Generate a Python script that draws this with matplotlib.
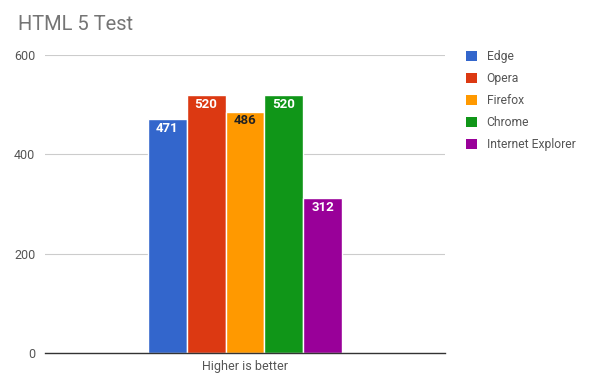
import matplotlib
matplotlib.use("Agg")
import matplotlib.pyplot as plt
from matplotlib.patches import Patch

plt.rcParams['font.family'] = ['Roboto', 'DejaVu Sans']

browsers = ["Edge", "Opera", "Firefox", "Chrome", "Internet Explorer"]
scores = [471, 520, 486, 520, 312]
colors = ["#3366cc", "#dc3912", "#ff9900", "#109618", "#990099"]
label_colors = ["white", "white", "#222222", "white", "white"]
category = "Higher is better"
yticks = [0, 200, 400, 600]

fig = plt.figure(figsize=(5.92, 3.89), dpi=100)
ax = fig.add_axes([45/592, 1-353/389, 400/592, 298/389])

pos = list(range(len(browsers)))
bars = ax.bar(pos, scores, width=1.0, color=colors, edgecolor="white", linewidth=1.0, zorder=3)
for b, v, lc in zip(bars, scores, label_colors):
    ax.annotate(str(v), (b.get_x() + b.get_width()/2, v), xytext=(0, -2), textcoords="offset points",
                ha="center", va="top", color=lc, fontsize=9.5, fontweight="bold", zorder=4)

ax.set_xlim(-3.15, 7.15)
ax.set_ylim(0, 600)
ax.set_yticks(yticks)
ax.set_yticklabels([str(t) for t in yticks])
ax.set_xticks([2])
ax.set_xticklabels([category])
ax.tick_params(axis="both", length=0, labelsize=9, labelcolor="#555555")
ax.tick_params(axis="y", pad=7)
ax.tick_params(axis="x", pad=5)
ax.grid(axis="y", color="#cccccc", linewidth=0.8, zorder=0)
for s in ["top", "right", "left"]:
    ax.spines[s].set_visible(False)
ax.spines["bottom"].set_color("#333333")
ax.spines["bottom"].set_linewidth(1.0)
ax.spines["bottom"].set_zorder(5)

fig.text(18/592, 1-25/389, "HTML 5 Test", fontsize=14.5, color="#757575", va="center", ha="left")

handles = [Patch(facecolor=c, edgecolor="none") for c in colors]
fig.legend(handles, browsers, loc="upper left", bbox_to_anchor=(466/592, 1-50/389),
           frameon=False, fontsize=8.7, labelcolor="#555555", handlelength=0.9, handleheight=0.9,
           handletextpad=0.8, labelspacing=0.74, borderaxespad=0, borderpad=0)

fig.savefig("out.png", dpi=100)
